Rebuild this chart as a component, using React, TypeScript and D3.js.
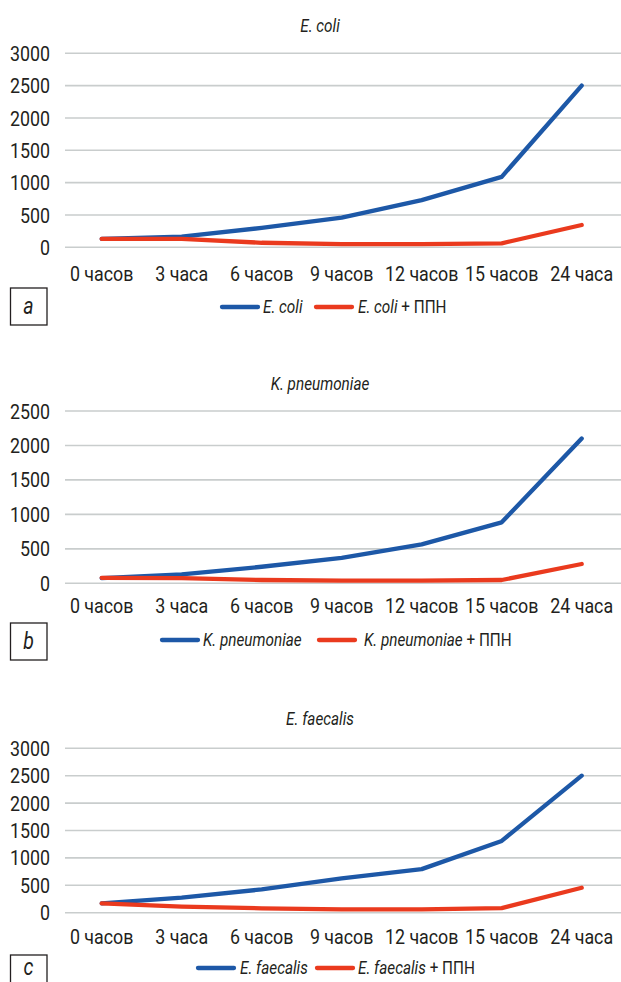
import React, { useEffect, useRef } from 'react';
import * as d3 from 'd3';

const categories = ['0 часов', '3 часа', '6 часов', '9 часов', '12 часов', '15 часов', '24 часа'];

const eColi = [130, 165, 300, 460, 730, 1090, 2500];
const eColiPpn = [130, 130, 70, 50, 50, 62, 345];
const kPneumoniae = [75, 130, 240, 370, 565, 885, 2100];
const kPneumoniaePpn = [80, 75, 48, 40, 40, 48, 280];
const eFaecalis = [170, 275, 425, 625, 795, 1310, 2500];
const eFaecalisPpn = [170, 110, 80, 62, 62, 85, 455];

const ticks3000 = [0, 500, 1000, 1500, 2000, 2500, 3000];
const ticks2500 = [0, 500, 1000, 1500, 2000, 2500];

const BLUE = '#1d58a7';
const RED = '#ea3a1e';
const INK = '#231f20';
const FONT = 'Roboto, "DejaVu Sans Condensed", sans-serif';
const SQUEEZE = 0.85; // the original font is a narrow DIN-like face

const panels = [
    {
        title: 'E. coli', letter: 'a', blue: eColi, red: eColiPpn, ticks: ticks3000,
        top: 53.3, bottom: 247.3, titleY: 26, labelY: 273, legendY: 307, boxY: 288, letterY: 306,
        legend: [222, 263, 316, 358],
    },
    {
        title: 'K. pneumoniae', letter: 'b', blue: kPneumoniae, red: kPneumoniaePpn, ticks: ticks2500,
        top: 411, bottom: 583.3, titleY: 384, labelY: 605, legendY: 640, boxY: 623, letterY: 641,
        legend: [162, 203, 319, 364],
    },
    {
        title: 'E. faecalis', letter: 'c', blue: eFaecalis, red: eFaecalisPpn, ticks: ticks3000,
        top: 748.3, bottom: 912.7, titleY: 719, labelY: 936, legendY: 968, boxY: 955, letterY: 967,
        legend: [198, 240, 317, 358],
    },
];

const addText = (g, x, y, txt, size, anchor = 'start', italic = false) =>
    g.append('text')
        .attr('transform', `translate(${x},${y}) scale(${SQUEEZE},1)`)
        .attr('dy', '0.36em')
        .attr('text-anchor', anchor)
        .style('font-family', FONT)
        .style('font-size', size + 'px')
        .style('font-style', italic ? 'italic' : 'normal')
        .attr('fill', INK)
        .text(txt);

const App = () => {
    const ref = useRef<SVGSVGElement>(null);

    useEffect(() => {
        const svg = d3.select(ref.current);
        svg.selectAll('*').remove();

        const x = d3.scalePoint<string>()
            .domain(categories)
            .range([101.7, 581.7]);

        panels.forEach(p => {
            const g = svg.append('g');
            const y = d3.scaleLinear()
                .domain([0, d3.max(p.ticks) as number])
                .range([p.bottom, p.top]);

            // gridlines
            g.selectAll('.grid')
                .data(p.ticks)
                .enter()
                .append('line')
                .attr('x1', 65)
                .attr('x2', 621)
                .attr('y1', d => y(d))
                .attr('y2', d => y(d))
                .attr('stroke', '#c9cdcd')
                .attr('stroke-width', 1.6);

            p.ticks.forEach(d => addText(g, 50, y(d), d, 21, 'end'));
            categories.forEach(c => addText(g, x(c), p.labelY, c, 21, 'middle'));
            addText(g, 320, p.titleY, p.title, 18, 'middle', true);

            const line = d3.line<number>()
                .x((d, i) => x(categories[i]) as number)
                .y(d => y(d));

            [[p.blue, BLUE], [p.red, RED]].forEach(([vals, color]) => {
                g.append('path')
                    .datum(vals)
                    .attr('fill', 'none')
                    .attr('stroke', color)
                    .attr('stroke-width', 4.3)
                    .attr('stroke-linejoin', 'round')
                    .attr('stroke-linecap', 'round')
                    .attr('d', line);
            });

            // legend
            const [bx, btx, rx, rtx] = p.legend;
            g.append('line')
                .attr('x1', bx).attr('x2', bx + 36)
                .attr('y1', p.legendY).attr('y2', p.legendY)
                .attr('stroke', BLUE).attr('stroke-width', 4.3).attr('stroke-linecap', 'round');
            addText(g, btx, p.legendY, p.title, 18, 'start', true);
            g.append('line')
                .attr('x1', rx).attr('x2', rx + 36)
                .attr('y1', p.legendY).attr('y2', p.legendY)
                .attr('stroke', RED).attr('stroke-width', 4.3).attr('stroke-linecap', 'round');
            const t = addText(g, rtx, p.legendY, '', 18);
            t.append('tspan').style('font-style', 'italic').text(p.title);
            t.append('tspan').text(' + ППН');

            // panel letter box
            g.append('rect')
                .attr('x', 10.5)
                .attr('y', p.boxY)
                .attr('width', 36.5)
                .attr('height', 37)
                .attr('fill', 'none')
                .attr('stroke', INK)
                .attr('stroke-width', 1.3);
            addText(g, 28.5, p.letterY, p.letter, 23, 'middle', true);
        });
    }, []);

    return (
        <svg
            ref={ref}
            width={621}
            height={982}
            style={{ position: 'absolute', left: 0, top: 0, background: '#fff' }}
        />
    );
};

export default App;
